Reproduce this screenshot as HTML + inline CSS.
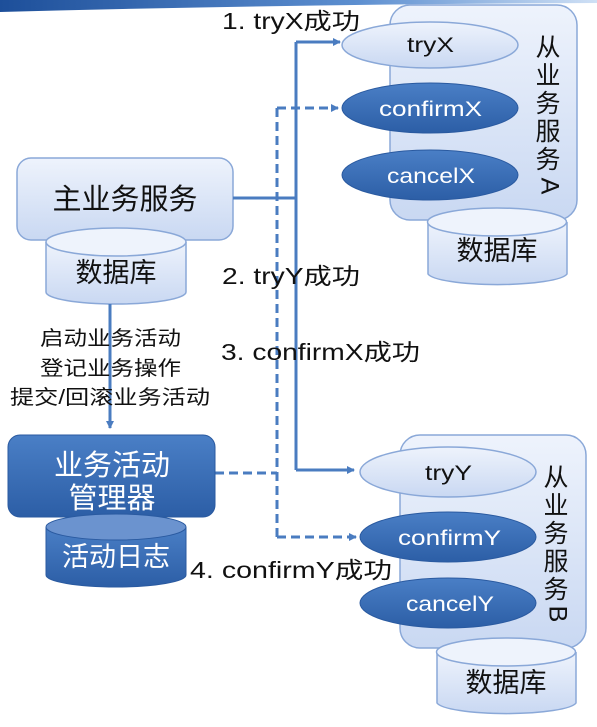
<!DOCTYPE html>
<html><head><meta charset="utf-8"><style>
html,body{margin:0;padding:0;background:#fff;}
svg{display:block;font-family:"Liberation Sans","Noto Sans CJK SC",sans-serif;}
</style></head><body>
<svg width="597" height="727" viewBox="0 0 597 727" xmlns="http://www.w3.org/2000/svg">
<defs>
<linearGradient id="lg" x1="0" y1="0" x2="0" y2="1"><stop offset="0" stop-color="#eef3fc"/><stop offset="1" stop-color="#c9d8f2"/></linearGradient>
<linearGradient id="dg" x1="0" y1="0" x2="0" y2="1"><stop offset="0" stop-color="#4a7fc6"/><stop offset="1" stop-color="#2c5ea6"/></linearGradient>
<linearGradient id="ban" x1="0" y1="0" x2="1" y2="0"><stop offset="0" stop-color="#1d4f9a"/><stop offset="0.6" stop-color="#5d8fd0"/><stop offset="1" stop-color="#cfe0f5"/></linearGradient>
<marker id="ar" markerWidth="8" markerHeight="8" refX="7" refY="4" orient="auto" markerUnits="userSpaceOnUse"><path d="M0,0 L8,4 L0,8 z" fill="#4a7cc0"/></marker>
</defs>
<path d="M0,0 L597,0 L597,3 Q300,4 0,12 z" fill="url(#ban)"/>

<!-- Service A -->
<rect x="390" y="5" width="187" height="215" rx="20" fill="url(#lg)" stroke="#8aa8d8" stroke-width="1.5"/>
<text font-size="25" fill="#111" text-anchor="middle"><tspan x="548" y="56">从</tspan><tspan x="548" y="84">业</tspan><tspan x="548" y="112">务</tspan><tspan x="548" y="140">服</tspan><tspan x="548" y="168">务</tspan></text>
<text x="548" y="186" font-size="25" fill="#111" text-anchor="middle" transform="rotate(90 548 186)" dominant-baseline="middle">A</text>
<ellipse cx="430" cy="45" rx="88" ry="23" fill="url(#lg)" stroke="#8aa8d8" stroke-width="1.5"/>
<text x="407" y="52" font-size="21" fill="#111" textLength="47" lengthAdjust="spacingAndGlyphs">tryX</text>
<ellipse cx="430" cy="108" rx="88" ry="25" fill="url(#dg)" stroke="#2a5aa0"/>
<text x="379" y="116" font-size="21" fill="#fff" textLength="103" lengthAdjust="spacingAndGlyphs">confirmX</text>
<ellipse cx="430" cy="175" rx="88" ry="25" fill="url(#dg)" stroke="#2a5aa0"/>
<text x="387" y="183" font-size="21" fill="#fff" textLength="88" lengthAdjust="spacingAndGlyphs">cancelX</text>
<path d="M428,222 L428,274 A70,12 0 0 0 567,274 L567,222" fill="url(#lg)" stroke="#8aa8d8" stroke-width="1.5"/>
<ellipse cx="497" cy="222" rx="69.5" ry="14" fill="#eef3fc" stroke="#8aa8d8" stroke-width="1.5"/>
<text x="497" y="260" font-size="27" text-anchor="middle" fill="#111">数据库</text>

<!-- Main service -->
<rect x="17" y="158" width="216" height="82" rx="14" fill="url(#lg)" stroke="#8aa8d8" stroke-width="1.5"/>
<text x="125" y="209" font-size="29" text-anchor="middle" fill="#111">主业务服务</text>
<path d="M46,242 L46,292 A70,12 0 0 0 186,292 L186,242" fill="url(#lg)" stroke="#8aa8d8" stroke-width="1.5"/>
<ellipse cx="116" cy="242" rx="70" ry="14" fill="#eef3fc" stroke="#8aa8d8" stroke-width="1.5"/>
<text x="116" y="282" font-size="27" text-anchor="middle" fill="#111">数据库</text>

<!-- connectors -->
<g stroke="#4a7cc0" stroke-width="3" fill="none">
<path d="M233,198 L296,198"/>
<path d="M296,42 L296,470" />
<path d="M296,42 L340,42" marker-end="url(#ar)"/>
<path d="M296,470 L354,470" marker-end="url(#ar)"/>
<path d="M110,304 L110,428" marker-end="url(#ar)"/>
</g>
<g stroke="#4a7cc0" stroke-width="3" fill="none" stroke-dasharray="9,5">
<path d="M277,108 L277,537"/>
<path d="M277,108 L338,108" marker-end="url(#ar)"/>
<path d="M215,473 L277,473"/>
<path d="M277,537 L356,537" marker-end="url(#ar)"/>
</g>

<!-- labels -->
<g font-size="23" fill="#111">
<text x="222" y="29" textLength="138" lengthAdjust="spacingAndGlyphs">1. tryX成功</text>
<text x="222" y="284" textLength="138" lengthAdjust="spacingAndGlyphs">2. tryY成功</text>
<text x="221" y="360" textLength="199" lengthAdjust="spacingAndGlyphs">3. confirmX成功</text>
<text x="190" y="578" textLength="202" lengthAdjust="spacingAndGlyphs">4. confirmY成功</text>
</g>
<g font-size="20" fill="#111">
<text x="40" y="345" textLength="141" lengthAdjust="spacingAndGlyphs">启动业务活动</text>
<text x="40" y="375" textLength="141" lengthAdjust="spacingAndGlyphs">登记业务操作</text>
<text x="10" y="404" textLength="200" lengthAdjust="spacingAndGlyphs">提交/回滚业务活动</text>
</g>

<!-- Manager -->
<rect x="8" y="435" width="207" height="82" rx="12" fill="url(#dg)" stroke="#2a5aa0"/>
<text x="112" y="475" font-size="29" text-anchor="middle" fill="#fff">业务活动</text>
<text x="112" y="508" font-size="29" text-anchor="middle" fill="#fff">管理器</text>
<path d="M46,527 L46,575 A70,12 0 0 0 186,575 L186,527" fill="url(#dg)" stroke="#2a5aa0"/>
<ellipse cx="116" cy="527" rx="70" ry="13" fill="#6b93cf" stroke="#2a5aa0"/>
<text x="116" y="566" font-size="27" text-anchor="middle" fill="#fff">活动日志</text>

<!-- Service B -->
<rect x="400" y="435" width="186" height="213" rx="20" fill="url(#lg)" stroke="#8aa8d8" stroke-width="1.5"/>
<text font-size="25" fill="#111" text-anchor="middle"><tspan x="556" y="486">从</tspan><tspan x="556" y="514">业</tspan><tspan x="556" y="542">务</tspan><tspan x="556" y="570">服</tspan><tspan x="556" y="598">务</tspan></text>
<text x="556" y="614" font-size="25" fill="#111" text-anchor="middle" transform="rotate(90 556 614)" dominant-baseline="middle">B</text>
<ellipse cx="448" cy="472" rx="88" ry="25" fill="url(#lg)" stroke="#8aa8d8" stroke-width="1.5"/>
<text x="425" y="480" font-size="21" fill="#111" textLength="47" lengthAdjust="spacingAndGlyphs">tryY</text>
<ellipse cx="448" cy="537" rx="88" ry="25" fill="url(#dg)" stroke="#2a5aa0"/>
<text x="398" y="545" font-size="21" fill="#fff" textLength="103" lengthAdjust="spacingAndGlyphs">confirmY</text>
<ellipse cx="448" cy="603" rx="88" ry="25" fill="url(#dg)" stroke="#2a5aa0"/>
<text x="406" y="611" font-size="21" fill="#fff" textLength="88" lengthAdjust="spacingAndGlyphs">cancelY</text>
<path d="M437,652 L437,703 A70,12 0 0 0 576,703 L576,652" fill="url(#lg)" stroke="#8aa8d8" stroke-width="1.5"/>
<ellipse cx="506" cy="652" rx="69.5" ry="14" fill="#eef3fc" stroke="#8aa8d8" stroke-width="1.5"/>
<text x="506" y="692" font-size="27" text-anchor="middle" fill="#111">数据库</text>
</svg>
</body></html>
